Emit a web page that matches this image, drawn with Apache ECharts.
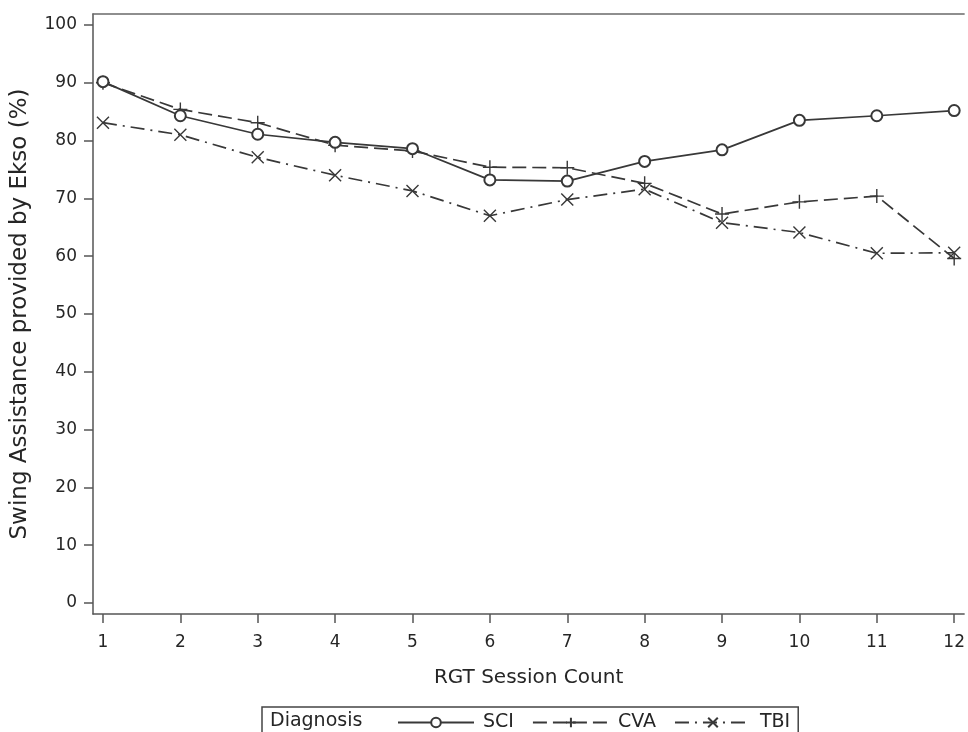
<!DOCTYPE html>
<html>
<head>
<meta charset="utf-8">
<script src="https://cdn.jsdelivr.net/npm/echarts@6/dist/echarts.min.js"></script>
<style>
html,body{margin:0;padding:0;background:#fff;overflow:hidden;}
#chart{width:968px;height:732px;}
</style>
</head>
<body>
<div id="chart"></div>
<script>
var sessions = [1,2,3,4,5,6,7,8,9,10,11,12];
var sci = [90.2, 84.3, 81.1, 79.7, 78.6, 73.2, 73.0, 76.4, 78.4, 83.5, 84.3, 85.2];
var cva = [90.0, 85.4, 83.1, 79.2, 78.2, 75.4, 75.3, 72.6, 67.3, 69.4, 70.4, 59.6];
var tbi = [83.1, 81.0, 77.1, 74.0, 71.3, 67.0, 69.8, 71.6, 65.8, 64.1, 60.5, 60.6];
var yTicks = [0,10,20,30,40,50,60,70,80,90,100];
var seriesNames = ['SCI','CVA','TBI'];

var FONT = '"DejaVu Sans", "Open Sans", sans-serif';
var INK = '#262626';
var LINE = '#383838';

function pairs(arr){ return sessions.map(function(s,i){ return [s, arr[i]]; }); }

var plusPath = 'path://M5,0 L5,10 M0,5 L10,5';
var crossPath = 'path://M0,0 L10,10 M10,0 L0,10';

var X_MIN = 0.8713, X_MAX = 12.1287;

var chart = echarts.init(document.getElementById('chart'), null, {renderer:'canvas'});
chart.setOption({
  backgroundColor:'#fff',
  animation:false,
  textStyle:{fontFamily:FONT},
  grid:{left:93, top:14, right:0, height:600, show:false},
  xAxis:[{
    type:'value', min:X_MIN, max:X_MAX,
    name:'RGT Session Count', nameLocation:'middle', nameGap:54,
    nameTextStyle:{fontSize:20, color:INK, fontFamily:FONT},
    axisLine:{show:true, onZero:false, lineStyle:{color:'#555', width:1.5}},
    axisTick:{show:true, length:9, customValues:sessions, lineStyle:{color:'#555', width:1.5}},
    axisLabel:{customValues:sessions, margin:20, fontSize:17, color:INK, fontFamily:FONT},
    splitLine:{show:false}
  },{
    type:'value', position:'top', min:X_MIN, max:X_MAX,
    axisLine:{show:true, onZero:false, lineStyle:{color:'#6a6a6a', width:1.5}},
    axisTick:{show:false}, axisLabel:{show:false}, splitLine:{show:false}
  }],
  yAxis:{
    type:'value', min:-1.903, max:101.903,
    name:'Swing Assistance provided by Ekso (%)', nameLocation:'middle', nameGap:61, nameRotate:90,
    nameTextStyle:{fontSize:23, color:INK, fontFamily:FONT},
    axisLine:{show:true, onZero:false, lineStyle:{color:'#555', width:1.5}},
    axisTick:{show:true, length:9, customValues:yTicks, lineStyle:{color:'#555', width:1.5}},
    axisLabel:{customValues:yTicks, margin:16, fontSize:17, color:INK, fontFamily:FONT},
    splitLine:{show:false}
  },
  legend:{
    left:262, top:707,
    data:seriesNames,
    orient:'horizontal',
    borderColor:'#444', borderWidth:1.5,
    padding:[6,8,8,135],
    itemGap:18, itemWidth:76, itemHeight:12,
    textStyle:{fontSize:19, color:INK, fontFamily:FONT, padding:[0,0,0,4]},
    selectedMode:false
  },
  graphic:[{
    type:'text', left:270, top:712,
    style:{text:'Diagnosis', fontSize:19, fill:INK, fontFamily:FONT}
  }],
  series:[
    {
      name:seriesNames[0], type:'line', data:pairs(sci),
      symbol:'emptyCircle', symbolSize:11,
      lineStyle:{color:LINE, width:1.7, type:'solid'},
      itemStyle:{color:LINE, borderColor:LINE, borderWidth:1.4},
      z:3
    },
    {
      name:seriesNames[1], type:'line', data:pairs(cva),
      symbol:plusPath, symbolSize:14,
      lineStyle:{color:LINE, width:1.7, type:[14,6]},
      itemStyle:{color:'transparent', borderColor:LINE, borderWidth:1.4},
      z:2
    },
    {
      name:seriesNames[2], type:'line', data:pairs(tbi),
      symbol:crossPath, symbolSize:12,
      lineStyle:{color:LINE, width:1.7, type:[14,6,2,6]},
      itemStyle:{color:'transparent', borderColor:LINE, borderWidth:1.4},
      z:2
    }
  ]
});
</script>
</body>
</html>
